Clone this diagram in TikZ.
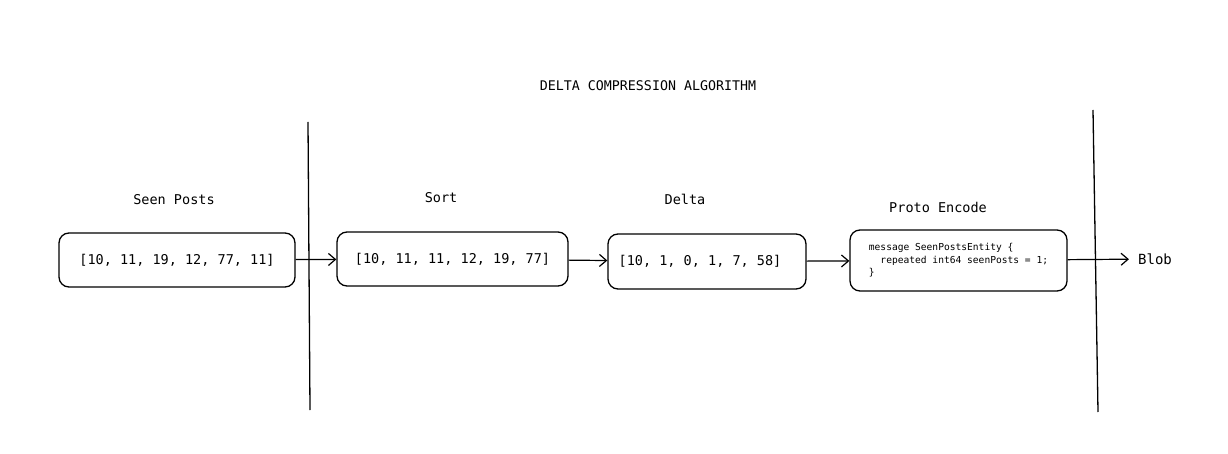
\documentclass[tikz,border=0pt]{standalone}
\usepackage{fontspec}
\setmonofont{DejaVu Sans Mono}
\usetikzlibrary{arrows.meta}

\begin{document}
\begin{tikzpicture}[x=1pt,y=-1pt,
    stagebox/.style={draw, line width=1.3pt, rounded corners=10pt, inner sep=0pt,
        font=\ttfamily\fontsize{13.5}{16}\selectfont},
    stagelabel/.style={font=\ttfamily\fontsize{13.5}{16}\selectfont},
    flow/.style={-{Straight Barb[length=7pt,width=12pt]}, line width=1.2pt}]
    \useasboundingbox (0,0) rectangle (1228,454);

    % Title
    \node[stagelabel, font=\ttfamily\fontsize{13.3}{15}\selectfont] (title) at (648,86) {DELTA COMPRESSION ALGORITHM};

    % Boundary lines
    \draw[line width=1.3pt] (308,122) -- (310,410);
    \draw[line width=1.3pt] (1093,110) -- (1098,412);

    % Seen posts
    \node[stagelabel] (seenlbl) at (174,200) {Seen Posts};
    \node[stagebox, minimum width=236, minimum height=54] (seen) at (177,260) {[10, 11, 19, 12, 77, 11]};

    % Sort
    \node[stagelabel] (sortlbl) at (441,198) {Sort};
    \node[stagebox, minimum width=231, minimum height=54] (sort) at (452.5,259) {[10, 11, 11, 12, 19, 77]};

    % Delta
    \node[stagelabel] (deltalbl) at (685,199) {Delta};
    \node[stagebox, minimum width=198, minimum height=55] (delta) at (707,261.5) {[10, 1, 0, 1, 7, 58]\rule{14pt}{0pt}};

    % Proto encode
    \node[stagelabel] (protolbl) at (938,207) {Proto Encode};
    \node[stagebox, minimum width=217, minimum height=61, align=left,
        font=\ttfamily\fontsize{9.6}{12.5}\selectfont] (proto) at (958.5,260.5)
        {message SeenPostsEntity \{\\
        \ \ repeated int64 seenPosts = 1;\\
        \}};

    % Output
    \node[stagelabel, font=\ttfamily\fontsize{14}{16}\selectfont, inner sep=9pt] (blob) at (1155,259) {Blob};

    % Flow
    \draw[flow] (seen) -- (sort);
    \draw[flow] (sort) -- (delta);
    \draw[flow] (delta) -- (proto);
    \draw[flow] (proto) -- (blob);
\end{tikzpicture}
\end{document}
